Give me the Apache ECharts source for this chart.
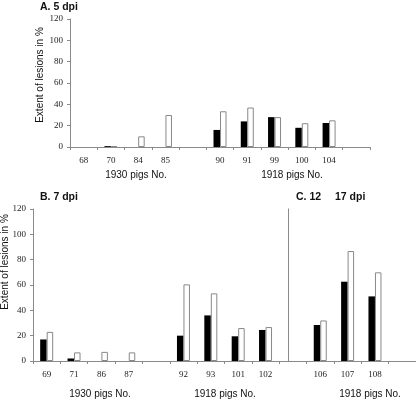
<!DOCTYPE html>
<html>
<head>
<meta charset="utf-8">
<script src="https://cdn.jsdelivr.net/npm/echarts@6/dist/echarts.min.js"></script>
<style>html,body{margin:0;padding:0;background:#fff;}#c{width:416px;height:400px;}</style>
</head>
<body>
<div id="c"></div>
<script>
// ---- data ----
var catsA = ['68', '70', '84', '85', ' ', '90', '91', '99', '100', '104', '  '];
var blackA = [null, 0.8, 0, 0, null, 16, 24, 28, 18, 22.5, null];
var whiteA = [null, 0.8, 10, 30, null, 33.5, 37, 28, 22.3, 25, null];

var catsB = ['69', '71', '86', '87', ' ', '92', '93', '101', '102', '  ', '106', '107', '108', '   '];
var blackB = [17, 2, 0, 0, null, 20, 36, 19.5, 24.5, null, 28.4, 62.6, 51, null];
var whiteB = [23, 6.8, 7.2, 6.8, null, 60.5, 53.4, 26, 26.8, null, 32, 86.8, 70, null];

var yMin = 0, yMax = 120, yStep = 20;
var yName = 'Extent of lesions in %';
var titleA = 'A. 5 dpi', titleB = 'B. 7 dpi', titleC1 = 'C. 12', titleC2 = '17 dpi';
var group1930 = '1930 pigs No.', group1918 = '1918 pigs No.';

// ---- styles ----
var axisGrey = '#8a8a8a';
var serif = '"Liberation Serif", "DejaVu Serif", serif';
var sans = '"Liberation Sans", Arial, sans-serif';

function catAxis(gi, data) {
  return {
    type: 'category', gridIndex: gi, data: data,
    axisLine: {show: true, lineStyle: {color: axisGrey, width: 1}},
    axisTick: {show: true, length: 3, interval: 0, lineStyle: {color: axisGrey}},
    axisLabel: {interval: 0, margin: 9, fontFamily: serif, fontSize: 9, color: '#222'},
    splitLine: {show: false}
  };
}
function valAxis(gi) {
  return {
    type: 'value', gridIndex: gi, min: yMin, max: yMax, interval: yStep,
    axisLine: {show: true, lineStyle: {color: axisGrey, width: 1}},
    axisTick: {show: true, length: 3, lineStyle: {color: axisGrey}},
    axisLabel: {margin: 7, fontFamily: serif, fontSize: 9, color: '#222'},
    splitLine: {show: false}
  };
}
function txt(t, x, y, opts) {
  opts = opts || {};
  return {
    type: 'text', x: x, y: y, rotation: opts.rot || 0,
    style: {
      text: t, fill: '#111',
      fontFamily: sans, fontSize: opts.size || 10, fontWeight: opts.bold ? 'bold' : 'normal',
      textAlign: opts.align || 'center', textVerticalAlign: 'middle'
    }
  };
}

var sepAxis = valAxis(1);
sepAxis.position = 'left';
sepAxis.offset = -255;
sepAxis.axisTick = {show: false};
sepAxis.axisLabel = {show: false};

var barW = 6.5;
var blackStyle = {color: '#000'};
var whiteStyle = {color: '#fff', borderColor: '#888', borderWidth: 1};

var option = {
  animation: false,
  backgroundColor: '#fff',
  grid: [
    {left: 70, right: 46, top: 19, bottom: 253, containLabel: false, outerBoundsMode: 'none'},
    {left: 33, right: 0, top: 209, bottom: 39, containLabel: false, outerBoundsMode: 'none'}
  ],
  xAxis: [catAxis(0, catsA), catAxis(1, catsB)],
  yAxis: [valAxis(0), valAxis(1), sepAxis],
  series: [
    {type: 'bar', xAxisIndex: 0, yAxisIndex: 0, data: blackA, barWidth: barW, barGap: '0%', itemStyle: blackStyle},
    {type: 'bar', xAxisIndex: 0, yAxisIndex: 0, data: whiteA, barWidth: barW, barGap: '0%', itemStyle: whiteStyle},
    {type: 'bar', xAxisIndex: 1, yAxisIndex: 1, data: blackB, barWidth: barW, barGap: '0%', itemStyle: blackStyle},
    {type: 'bar', xAxisIndex: 1, yAxisIndex: 1, data: whiteB, barWidth: barW, barGap: '0%', itemStyle: whiteStyle}
  ],
  graphic: [
    txt(titleA, 40, 7, {bold: true, size: 10.5, align: 'left'}),
    txt(titleB, 40, 197, {bold: true, size: 10.5, align: 'left'}),
    txt(titleC1, 296, 197, {bold: true, size: 10.5, align: 'left'}),
    txt(titleC2, 335, 197, {bold: true, size: 10.5, align: 'left'}),
    txt(yName, 40, 75, {rot: Math.PI / 2}),
    txt(yName, 5, 262, {rot: Math.PI / 2}),
    txt(group1930, 136, 175),
    txt(group1918, 292, 175),
    txt(group1930, 100, 394),
    txt(group1918, 225, 394),
    txt(group1918, 370, 394)
  ]
};

var chart = echarts.init(document.getElementById('c'), null, {renderer: 'canvas'});
chart.setOption(option);
</script>
</body>
</html>
